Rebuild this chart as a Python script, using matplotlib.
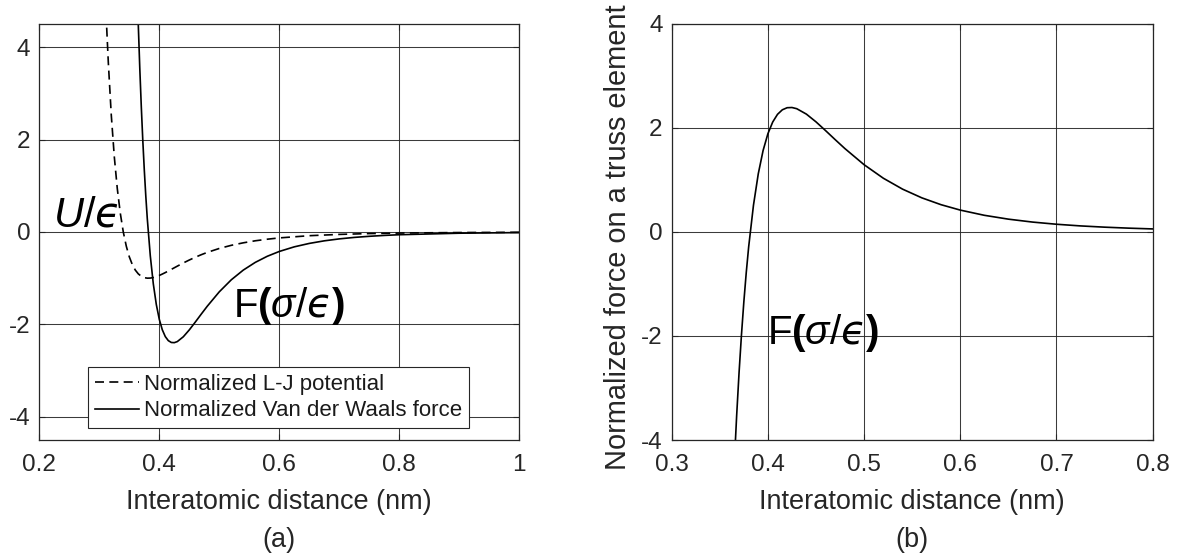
import matplotlib
matplotlib.use('Agg')
import matplotlib.pyplot as plt

plt.rcParams['font.family'] = ['Liberation Sans', 'DejaVu Sans']
plt.rcParams['axes.unicode_minus'] = False
plt.rcParams['mathtext.fontset'] = 'custom'
plt.rcParams['mathtext.rm'] = 'Liberation Sans'
plt.rcParams['mathtext.it'] = 'Liberation Sans:italic'
plt.rcParams['mathtext.bf'] = 'Liberation Sans:bold'
# lunate epsilon comes from DejaVu
plt.rcParams['mathtext.sf'] = 'DejaVu Sans:italic'

# interatomic distance (nm) and normalized L-J potential U/eps
r_lj = [0.31, 0.3125, 0.315, 0.32, 0.325, 0.33, 0.335, 0.34, 0.345, 0.35,
        0.355, 0.36, 0.365, 0.37, 0.375, 0.38, 0.385, 0.39, 0.395, 0.40,
        0.405, 0.41, 0.415, 0.42, 0.425, 0.43, 0.44, 0.45, 0.46, 0.47,
        0.48, 0.50, 0.52, 0.54, 0.56, 0.58, 0.60, 0.65, 0.70, 0.75,
        0.80, 0.90, 1.00]
u_lj = [5.156, 4.370, 3.677, 2.524, 1.630, 0.938, 0.406, 0.0, -0.307, -0.537,
        -0.704, -0.824, -0.906, -0.958, -0.988, -0.999, -0.997, -0.985, -0.965, -0.940,
        -0.910, -0.878, -0.844, -0.809, -0.774, -0.739, -0.670, -0.606, -0.546, -0.491,
        -0.441, -0.356, -0.288, -0.234, -0.190, -0.156, -0.128, -0.080, -0.052, -0.034,
        -0.023, -0.012, -0.006]

# normalized van der Waals force F*sigma/eps
r_vdw = [0.36, 0.3625, 0.365, 0.3675, 0.37, 0.3725, 0.375, 0.3775, 0.38, 0.385,
         0.39, 0.395, 0.40, 0.405, 0.41, 0.415, 0.42, 0.425, 0.43, 0.44,
         0.45, 0.46, 0.47, 0.48, 0.50, 0.52, 0.54, 0.56, 0.58, 0.60,
         0.625, 0.65, 0.675, 0.70, 0.725, 0.75, 0.775, 0.80, 0.90, 1.00]
f_vdw = [6.745, 5.542, 4.479, 3.539, 2.711, 1.983, 1.342, 0.779, 0.287, -0.515,
         -1.120, -1.567, -1.890, -2.115, -2.263, -2.350, -2.390, -2.394, -2.371, -2.267,
         -2.118, -1.949, -1.775, -1.605, -1.294, -1.034, -0.824, -0.657, -0.525, -0.421,
         -0.321, -0.247, -0.191, -0.149, -0.117, -0.093, -0.074, -0.059, -0.026, -0.013]

# same force seen by a truss element (tension positive)
r_truss = [0.36, 0.3625, 0.365, 0.3675, 0.37, 0.3725, 0.375, 0.3775, 0.38, 0.385,
           0.39, 0.395, 0.40, 0.405, 0.41, 0.415, 0.42, 0.425, 0.43, 0.44,
           0.45, 0.46, 0.47, 0.48, 0.50, 0.52, 0.54, 0.56, 0.58, 0.60,
           0.625, 0.65, 0.675, 0.70, 0.725, 0.75, 0.775, 0.80]
f_truss = [-6.745, -5.542, -4.479, -3.539, -2.711, -1.983, -1.342, -0.779, -0.287, 0.515,
           1.120, 1.567, 1.890, 2.115, 2.263, 2.350, 2.390, 2.394, 2.371, 2.267,
           2.118, 1.949, 1.775, 1.605, 1.294, 1.034, 0.824, 0.657, 0.525, 0.421,
           0.321, 0.247, 0.191, 0.149, 0.117, 0.093, 0.074, 0.059]

xticks_a = [0.2, 0.4, 0.6, 0.8, 1.0]
xticklabels_a = ['0.2', '0.4', '0.6', '0.8', '1']
xticks_b = [0.3, 0.4, 0.5, 0.6, 0.7, 0.8]
yticks = [-4, -2, 0, 2, 4]

grey = '#262626'
u_label = '$U/\\mathsf{\u03f5}$'
f_label = '$\\mathrm{F}\\mathbf{(}\\sigma/\\mathsf{\u03f5}\\mathbf{)}$'


def style(ax):
    for sp in ax.spines.values():
        sp.set_color(grey)
        sp.set_linewidth(0.9)
    ax.grid(True, color=grey, linewidth=0.75, alpha=0.9)
    ax.set_axisbelow(True)
    ax.tick_params(direction='in', length=4, width=0.8, top=True, right=True,
                   colors=grey, labelsize=17.5)
    ax.tick_params(axis='x', pad=10)
    ax.tick_params(axis='y', pad=6.5)


fig = plt.figure(figsize=(11.79, 5.59), dpi=100)
ax1 = fig.add_axes([0.03333, 0.21288, 0.40712, 0.74419])
ax2 = fig.add_axes([0.56972, 0.21288, 0.40797, 0.74419])

# (a) potential and force
ax1.plot(r_lj, u_lj, color='k', lw=1.2, dashes=(5.4, 3.2),
         label='Normalized L-J potential')
ax1.plot(r_vdw, f_vdw, color='k', lw=1.2,
         label='Normalized Van der Waals force')
ax1.set_xlim(0.2, 1.0)
ax1.set_ylim(-4.5, 4.5)
ax1.set_xticks(xticks_a)
ax1.set_xticklabels(xticklabels_a)
ax1.set_yticks(yticks)
style(ax1)
ax1.set_xlabel('Interatomic distance (nm)', fontsize=19.5, color=grey)
ax1.xaxis.set_label_coords(0.5, -0.149)
ax1.xaxis.label.set_va('center')
ax1.text(0.5, -0.2404, '(a)', transform=ax1.transAxes, ha='center', va='center',
         fontsize=19.5, color=grey)
ax1.text(0.223, 0.115, u_label, fontsize=30, color='k')
ax1.text(0.523, -1.83, f_label, fontsize=29, color='k')
leg = ax1.legend(loc='lower left', bbox_to_anchor=(0.102, 0.0288), borderaxespad=0,
                 fontsize=16, handlelength=2.0, handletextpad=0.2, labelspacing=0.25,
                 borderpad=0.3, fancybox=False, edgecolor=grey, framealpha=1)
leg.get_frame().set_linewidth(0.8)
for t in leg.get_texts():
    t.set_color('#1a1a1a')

# (b) force on a truss element
ax2.plot(r_truss, f_truss, color='k', lw=1.2)
ax2.set_xlim(0.3, 0.8)
ax2.set_ylim(-4, 4)
ax2.set_xticks(xticks_b)
ax2.set_yticks(yticks)
style(ax2)
ax2.set_xlabel('Interatomic distance (nm)', fontsize=19.5, color=grey)
ax2.xaxis.set_label_coords(0.5, -0.149)
ax2.xaxis.label.set_va('center')
ax2.set_ylabel('Normalized force on a truss element', fontsize=20.9, color=grey)
ax2.yaxis.set_label_coords(-0.112, 0.488)
ax2.yaxis.label.set_va('center')
ax2.text(0.5, -0.2404, '(b)', transform=ax2.transAxes, ha='center', va='center',
         fontsize=19.5, color=grey)
ax2.text(0.399, -2.15, f_label, fontsize=29, color='k')

fig.savefig('out.png', dpi=100)
